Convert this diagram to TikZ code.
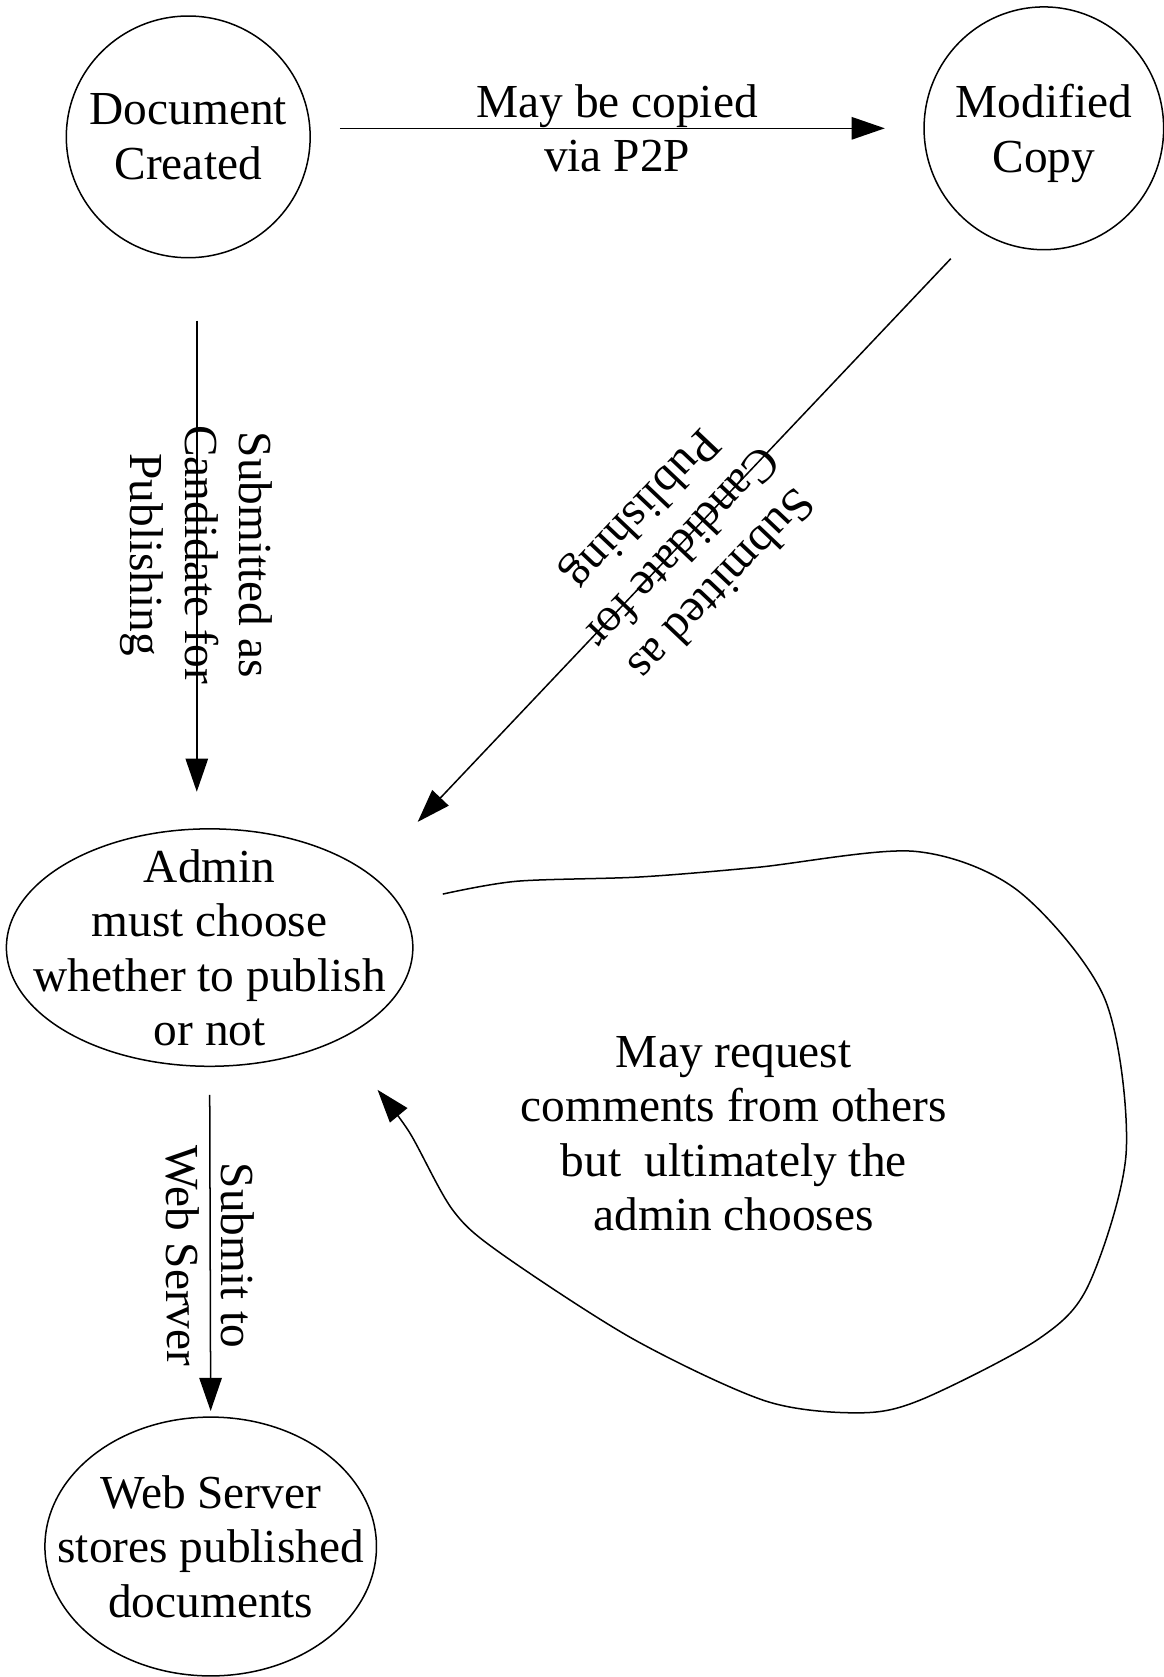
\documentclass[tikz,border=0pt]{standalone}
\usepackage{fontspec}
\setmainfont{Liberation Serif}
\usepackage{tikz}
\usetikzlibrary{shapes.geometric}
\usetikzlibrary{arrows.meta}
\usetikzlibrary{calc}
\tikzstyle{state}=[ellipse,draw,inner sep=0pt]
\tikzstyle{txt}=[align=center,inner sep=0pt]
\tikzstyle{edge} = [draw,->]
\tikzstyle{weight} = [align=center,sloped,allow upside down,inner sep=0pt]

\begin{document}
\begin{tikzpicture}[>={Triangle[length=3.1mm,width=2.1mm]}, font=\fontsize{12.6}{14.5}\selectfont]

  \useasboundingbox (0,0) rectangle (10.88,15.68);

  % the four states
  \foreach \name/\x/\y/\w/\h in {created/1.76/14.40/2.28/2.26, modified/9.76/14.48/2.24/2.27, admin/1.96/6.82/3.80/2.22, web/1.97/1.22/3.10/2.42}
     \node[state, minimum width=\w cm, minimum height=\h cm] (\name) at (\x,\y) {};

  \node[txt] (created-t) at (created) {Document\\Created};
  \node[txt, yshift=-0.05cm] (modified-t) at (modified) {Modified\\Copy};
  \node[txt] (admin-t) at (admin) {Admin\\must choose\\whether to publish\\or not};
  \node[txt] (web-t) at (web) {Web Server\\stores published\\documents};

  \draw[edge, shorten <=2.7mm, shorten >=3.6mm] (created.east |- modified.west) -- node[weight] {May be copied\\via P2P} (modified.west);

  \coordinate (down) at ([xshift=0.8mm]created.south);
  \draw[edge, shorten <=5.8mm, shorten >=3.4mm] (down) -- node[weight, pos=0.52] {Submitted as\\Candidate for\\Publishing} (down |- admin.north);

  \draw[edge, shorten <=3.65mm, shorten >=6.6mm] (modified.237) -- node[weight, pos=0.49] {Submitted as\\Candidate for\\Publishing} (admin.25);

  \draw[edge, shorten <=2.6mm, shorten >=0.5mm] (admin.south) -- node[weight, pos=0.54] {Submit to\\Web Server} (web.north);

  % review loop back into the admin
  \coordinate (loopstart) at (4.14,7.32);
  \coordinate (loopend) at (3.53,5.49);
  \draw[->] plot[smooth] coordinates {(loopstart) (4.83,7.44) (5.98,7.48) (7.08,7.57) (8.55,7.72) (9.52,7.35) (10.33,6.34) (10.53,4.91) (10.18,3.67) (9.71,3.16) (8.63,2.60) (8.05,2.47) (7.16,2.58) (5.92,3.16) (4.67,3.97) (4.23,4.37) (3.83,5.09) (loopend)};

  \node[txt] (note) at (6.86,5.08) {May request\\comments from others\\but\ \ ultimately the\\admin chooses};

\end{tikzpicture}
\end{document}
